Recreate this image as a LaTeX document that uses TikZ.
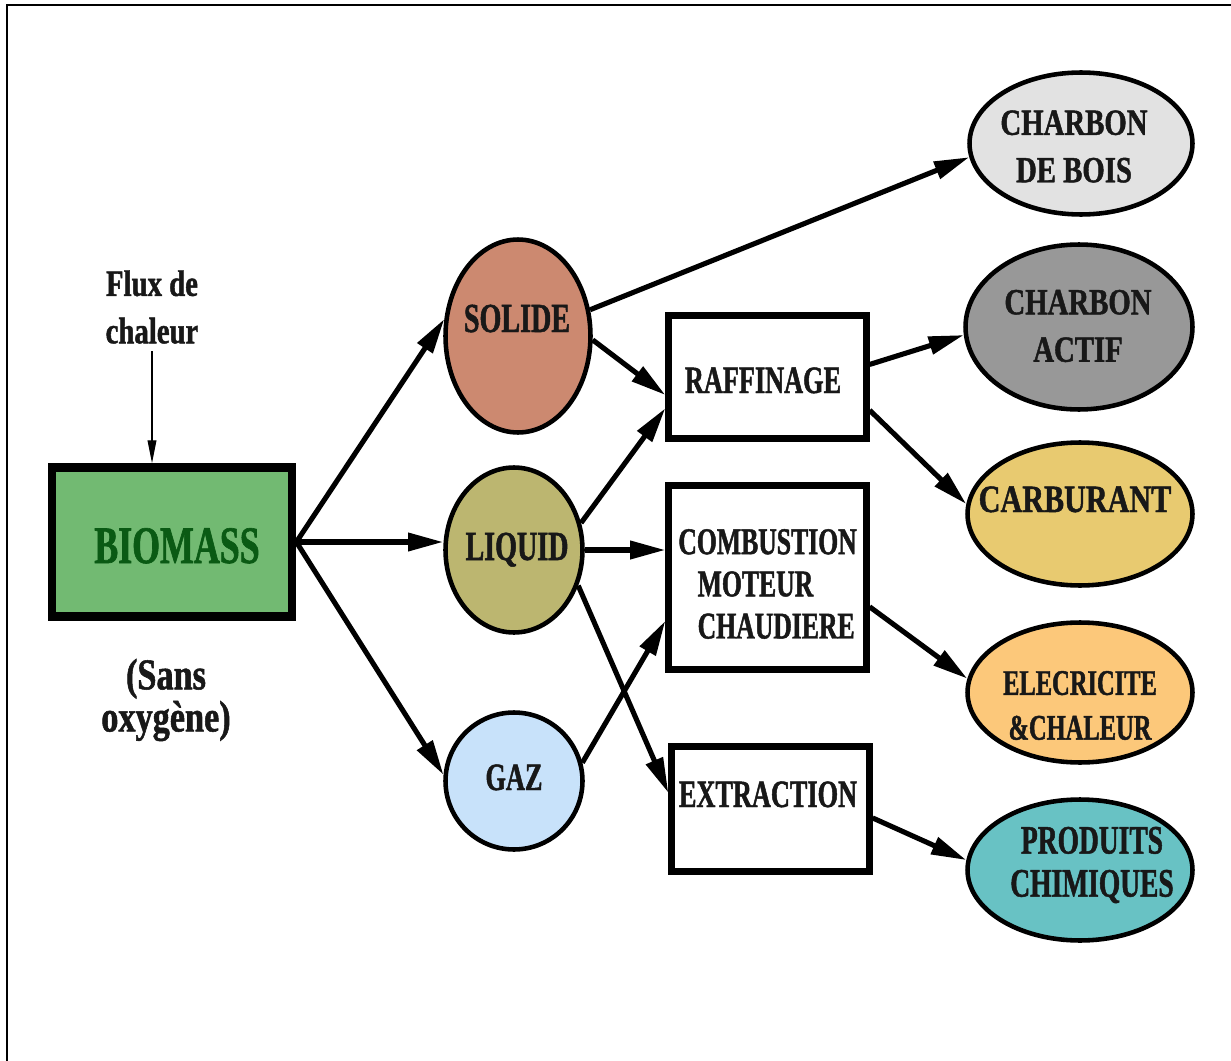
\documentclass[tikz,border=0pt]{standalone}
\usepackage{fontspec}
\setmainfont{Liberation Serif}[FakeStretch=0.68, FakeBold=1.2]
\newfontfamily\widefont{Liberation Serif}[FakeStretch=0.78, FakeBold=1.2]
\usetikzlibrary{arrows.meta, positioning, shapes.geometric}

\definecolor{biogreen}{RGB}{114,186,114}
\definecolor{biotext}{RGB}{10,90,20}
\definecolor{solidefill}{RGB}{204,137,112}
\definecolor{liquidfill}{RGB}{188,182,112}
\definecolor{gazfill}{RGB}{200,226,250}
\definecolor{boisfill}{RGB}{226,226,226}
\definecolor{actiffill}{RGB}{152,152,152}
\definecolor{carbfill}{RGB}{232,202,112}
\definecolor{elecfill}{RGB}{252,200,122}
\definecolor{chimfill}{RGB}{104,194,196}
\definecolor{ink}{RGB}{24,24,24}

\begin{document}
\begin{tikzpicture}[x=0.02cm, y=-0.02cm,
  every node/.style={text=ink},
  blob/.style={ellipse, draw, line width=2.6pt, inner sep=0pt},
  stage/.style={rectangle, draw, line width=3.6pt, inner sep=0pt, minimum width=3.96cm},
  txt/.style={inner sep=0pt, align=center, font=\bfseries\fontsize{22}{27}\selectfont},
  flow/.style={line width=2.9pt, -{Triangle[length=20pt,width=10pt]}}]
  \useasboundingbox (0,0) rectangle (1231,1061);
  % Frame
  \draw[line width=1.3pt] (7,1061) -- (7,5) -- (1231,5);

  % Biomass input
  \node[rectangle, draw, line width=5pt, fill=biogreen, minimum width=4.8cm, minimum height=2.98cm] (biomass) at (172,542) {};
  \node[txt, anchor=base, text=biotext, font=\bfseries\fontsize{30}{30}\selectfont] (biomasstxt) at (177,563) {BIOMASS};
  \node[txt, font=\widefont\bfseries\fontsize{21}{27}\selectfont] (flux) at (152,307) {Flux de\\chaleur};
  \node[txt, font=\widefont\bfseries\fontsize{25}{24}\selectfont] (sans) at (166,700) {(Sans\\oxygène)};
  \draw[line width=0.7pt, -{Triangle[length=13pt,width=5pt]}] ([yshift=-4pt]flux.south) -- (flux.south |- biomass.north);

  % Phases
  \node[blob, fill=solidefill, minimum width=2.9cm, minimum height=3.86cm] (solide) at (518,336) {};
  \node[txt, anchor=base, font=\bfseries\fontsize{23.5}{27}\selectfont] (solidetxt) at (517,332) {SOLIDE};
  \node[blob, fill=liquidfill, minimum width=2.74cm, minimum height=3.3cm] (liquid) at (514,550) {};
  \node[txt, anchor=base, font=\bfseries\fontsize{23.5}{27}\selectfont] (liquidtxt) at (517,560) {LIQUID};
  \node[blob, fill=gazfill, minimum width=2.74cm, minimum height=2.74cm] (gaz) at (514,781) {};
  \node[txt, anchor=base] (gaztxt) at (514,790) {GAZ};

  % Processes
  \node[stage, minimum height=2.46cm] (raff) at (767.5,377) {};
  \node[txt, anchor=base] (rafftxt) at (763,393) {RAFFINAGE};
  \node[stage, minimum height=3.68cm] (comb) at (767.5,577.5) {};
  \node[txt, anchor=west, align=left, font=\bfseries\fontsize{21.5}{24}\selectfont] (combtxt) at (678,584) {COMBUSTION\\\hspace*{11pt}MOTEUR\\\hspace*{11pt}CHAUDIERE};
  \node[stage, minimum height=2.5cm] (extr) at (770.5,809) {};
  \node[txt, anchor=base] (extrtxt) at (768,807) {EXTRACTION};

  % Products
  \node[blob, fill=boisfill, minimum width=4.46cm, minimum height=2.84cm] (bois) at (1081,143.5) {};
  \node[txt, font=\widefont\bfseries\fontsize{21}{27}\selectfont] (boistxt) at (1074,146.5) {CHARBON\\DE BOIS};
  \node[blob, fill=actiffill, minimum width=4.54cm, minimum height=3.3cm] (actif) at (1079,327) {};
  \node[txt, font=\widefont\bfseries\fontsize{21}{27}\selectfont] (actiftxt) at (1078,326) {CHARBON\\ACTIF};
  \node[blob, fill=carbfill, minimum width=4.5cm, minimum height=2.86cm] (carb) at (1080,514) {};
  \node[txt, anchor=base, font=\widefont\bfseries\fontsize{22}{27}\selectfont] (carbtxt) at (1075,512) {CARBURANT};
  \node[blob, fill=elecfill, minimum width=4.5cm, minimum height=2.8cm] (elec) at (1080,692.5) {};
  \node[txt, font=\bfseries\fontsize{20.5}{25.5}\selectfont] (electxt) at (1080,705.5) {ELECRICITE\\\&CHALEUR};
  \node[blob, fill=chimfill, minimum width=4.5cm, minimum height=2.82cm] (chim) at (1080,870) {};
  \node[txt, font=\bfseries\fontsize{23}{24.5}\selectfont] (chimtxt) at (1092,865) {PRODUITS\\CHIMIQUES};

  % Flows
  \draw[flow] (biomass.east) -- (solide.167);
  \draw[flow] (biomass.east) -- (biomass.east -| liquid.west);
  \draw[flow] (biomass.east) -- (gaz.175);
  \draw[flow] (solide.20) -- (bois.187);
  \draw[flow] (solide.-3) -- (raff.190);
  \draw[flow] (liquid.22) -- (raff.197);
  \draw[flow] (liquid.east) -- (liquid.east -| comb.west);
  \draw[flow] (liquid.-29) -- (extr.171);
  \draw[flow] (gaz.15) -- (comb.203);
  \draw[flow] (raff.7) -- (actif.184);
  \draw[flow] (raff.-18) -- (carb.175);
  \draw[flow] (comb.-16) -- (elec.173);
  \draw[flow] (extr.-5) -- (chim.175);
\end{tikzpicture}
\end{document}
